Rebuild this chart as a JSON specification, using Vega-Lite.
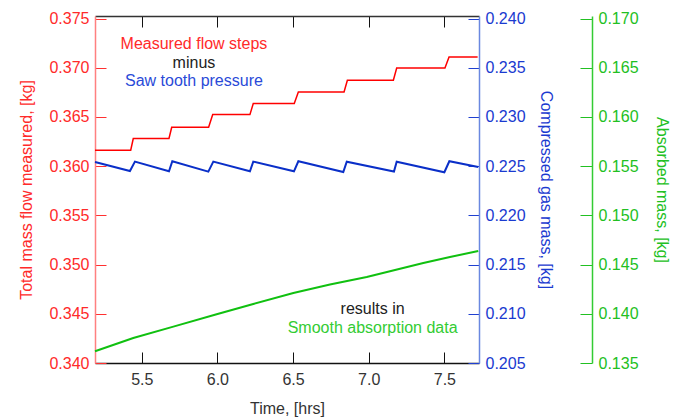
{
  "$schema": "https://vega.github.io/schema/vega-lite/v6.json",
  "width": 384,
  "height": 347,
  "autosize": {"type": "none"},
  "padding": {"left": 95, "top": 16, "right": 194, "bottom": 55},
  "background": "white",
  "config": {
    "view": {"stroke": null},
    "font": "Liberation Sans",
    "axis": {"grid": false, "labelFont": "Liberation Sans", "titleFont": "Liberation Sans", "labelFontSize": 16, "titleFontSize": 16, "titleFontWeight": "normal", "tickWidth": 1, "domainWidth": 1.5}
  },
  "datasets": {
    "flow": [
      {"t": 5.191, "v": 0.36162}, {"t": 5.427, "v": 0.36162}, {"t": 5.444, "v": 0.36281},
      {"t": 5.680, "v": 0.36281}, {"t": 5.698, "v": 0.36395}, {"t": 5.942, "v": 0.36395},
      {"t": 5.969, "v": 0.36524}, {"t": 6.215, "v": 0.36524}, {"t": 6.237, "v": 0.36636},
      {"t": 6.508, "v": 0.36636}, {"t": 6.535, "v": 0.36754}, {"t": 6.837, "v": 0.36754},
      {"t": 6.859, "v": 0.36873}, {"t": 7.163, "v": 0.36873}, {"t": 7.185, "v": 0.36998},
      {"t": 7.504, "v": 0.36998}, {"t": 7.531, "v": 0.37110}, {"t": 7.720, "v": 0.37110}
    ],
    "pressure": [
      {"t": 5.191, "v": 0.22543}, {"t": 5.422, "v": 0.22451}, {"t": 5.455, "v": 0.22546},
      {"t": 5.680, "v": 0.22448}, {"t": 5.702, "v": 0.22550}, {"t": 5.940, "v": 0.22445},
      {"t": 5.973, "v": 0.22546}, {"t": 6.215, "v": 0.22448}, {"t": 6.237, "v": 0.22546},
      {"t": 6.506, "v": 0.22448}, {"t": 6.535, "v": 0.22550}, {"t": 6.832, "v": 0.22441},
      {"t": 6.855, "v": 0.22546}, {"t": 7.167, "v": 0.22445}, {"t": 7.185, "v": 0.22546},
      {"t": 7.500, "v": 0.22438}, {"t": 7.533, "v": 0.22550}, {"t": 7.724, "v": 0.22492}
    ],
    "absorbed": [
      {"t": 5.191, "v": 0.13619}, {"t": 5.444, "v": 0.13754}, {"t": 5.709, "v": 0.13870},
      {"t": 5.995, "v": 0.13995}, {"t": 6.237, "v": 0.14100}, {"t": 6.502, "v": 0.14211},
      {"t": 6.744, "v": 0.14297}, {"t": 6.987, "v": 0.14374}, {"t": 7.361, "v": 0.14516},
      {"t": 7.537, "v": 0.14577}, {"t": 7.724, "v": 0.14638}
    ],
    "notes": [
      {"t": 5.845, "v": 0.37244, "label": "Measured flow steps", "role": "flow"},
      {"t": 5.845, "v": 0.37052, "label": "minus", "role": "neutral"},
      {"t": 5.845, "v": 0.36865, "label": "Saw tooth pressure", "role": "pressure"},
      {"t": 7.026, "v": 0.34550, "label": "results in", "role": "neutral"},
      {"t": 7.026, "v": 0.34360, "label": "Smooth absorption data", "role": "absorption"}
    ]
  },
  "layer": [
    {
      "data": {"name": "flow"},
      "mark": {"type": "line", "color": "#ff0000", "strokeWidth": 1.5, "interpolate": "linear"},
      "encoding": {
        "x": {"field": "t", "type": "quantitative", "scale": {"domain": [5.191, 7.729], "nice": false, "zero": false},
          "axis": {"orient": "bottom", "values": [5.5, 6.0, 6.5, 7.0, 7.5], "format": ".1f", "tickSize": -11, "labelPadding": 19, "domainColor": "#111111", "tickColor": "#111111", "labelColor": "#333333", "title": "Time, [hrs]", "titleColor": "#333333", "titlePadding": 13}},
        "y": {"field": "v", "type": "quantitative", "scale": {"domain": [0.340, 0.37526], "nice": false, "zero": false},
          "axis": {"orient": "left", "values": [0.340, 0.345, 0.350, 0.355, 0.360, 0.365, 0.370, 0.375], "format": ".3f", "tickSize": -11, "labelPadding": 17, "domainColor": "#ff8080", "tickColor": "#ff3030", "labelColor": "#ff2a2a", "title": "Total mass flow measured, [kg]", "titleColor": "#ff2a2a", "titlePadding": 14}}
      }
    },
    {
      "data": {"name": "pressure"},
      "mark": {"type": "line", "color": "#0a2fc8", "strokeWidth": 2},
      "encoding": {
        "x": {"field": "t", "type": "quantitative",
          "axis": {"orient": "top", "values": [5.5, 6.0, 6.5, 7.0, 7.5], "labels": false, "tickSize": -11, "domainColor": "#333333", "tickColor": "#111111", "title": null}},
        "y": {"field": "v", "type": "quantitative", "scale": {"domain": [0.205, 0.24026], "nice": false, "zero": false},
          "axis": {"orient": "right", "values": [0.205, 0.210, 0.215, 0.220, 0.225, 0.230, 0.235, 0.240], "format": ".3f", "tickSize": -11, "labelPadding": 17, "domainColor": "#6a88e0", "tickColor": "#2040d0", "labelColor": "#1a3ad0", "title": "Compressed gas mass, [kg]", "titleColor": "#1a3ad0", "titlePadding": 12}}
      }
    },
    {
      "data": {"name": "absorbed"},
      "mark": {"type": "line", "color": "#10c010", "strokeWidth": 2},
      "encoding": {
        "x": {"field": "t", "type": "quantitative", "axis": null},
        "y": {"field": "v", "type": "quantitative", "scale": {"domain": [0.135, 0.17026], "nice": false, "zero": false},
          "axis": {"orient": "right", "offset": 113, "values": [0.135, 0.140, 0.145, 0.150, 0.155, 0.160, 0.165, 0.170], "format": ".3f", "tickSize": -12, "labelPadding": 18, "domainColor": "#33cc33", "tickColor": "#22c022", "labelColor": "#22c022", "title": "Absorbed mass, [kg]", "titleColor": "#22c022", "titlePadding": 15}}
      }
    },
    {
      "data": {"name": "notes"},
      "mark": {"type": "text", "fontSize": 16, "font": "Liberation Sans", "align": "center", "baseline": "middle"},
      "encoding": {
        "x": {"field": "t", "type": "quantitative", "axis": null},
        "y": {"field": "v", "type": "quantitative", "scale": {"domain": [0.340, 0.37526], "nice": false, "zero": false}, "axis": null},
        "text": {"field": "label"},
        "color": {"field": "role", "type": "nominal", "legend": null,
          "scale": {"domain": ["flow", "neutral", "pressure", "absorption"], "range": ["#ff2a2a", "#222222", "#2a4ad8", "#33cc33"]}}
      }
    }
  ],
  "resolve": {"scale": {"y": "independent", "color": "independent"}, "axis": {"x": "independent"}}
}
